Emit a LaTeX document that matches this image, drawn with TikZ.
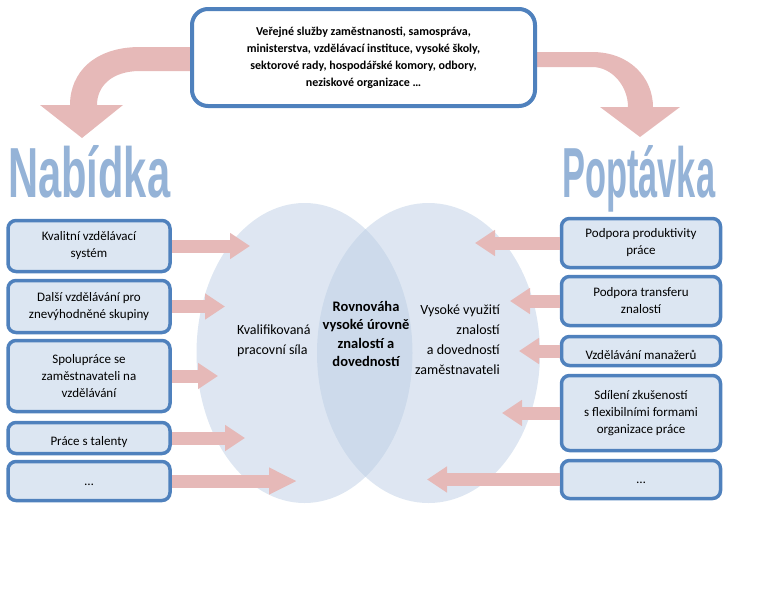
\documentclass[tikz,border=0pt]{standalone}
\usepackage{fontspec}
\setmainfont{Carlito}
\newfontfamily\titlefont{Liberation Sans}
\usetikzlibrary{arrows.meta}
\definecolor{bordblue}{RGB}{79,129,189}
\definecolor{boxfill}{RGB}{220,230,242}
\definecolor{pinkarr}{RGB}{230,185,184}
\definecolor{titleblue}{RGB}{149,179,215}
\definecolor{ellfill}{RGB}{187,205,228}
\begin{document}
\begin{tikzpicture}[x=1pt,y=-1pt,
  font=\fontsize{13}{17}\selectfont,
  sidebox/.style={draw=bordblue, line width=3.5pt, fill=boxfill, rounded corners=8pt,
    align=center, inner sep=2pt},
  lowtext/.style={execute at begin node={\rule{0pt}{#1}}},
  lowtext/.default=16.5pt,
  lbox/.style={sidebox, minimum width=162pt},
  rbox/.style={sidebox, minimum width=159pt},
  parr/.style={draw=pinkarr, line width=13pt, -{Triangle[width=25pt,length=20pt]}},
  venn/.style={fill=ellfill, opacity=0.49},
]
\useasboundingbox (0,0) rectangle (768,614);

% Venn ellipses
\fill[venn] (304.5,353) ellipse [x radius=108, y radius=150];
\fill[venn] (428.5,353) ellipse [x radius=111.5, y radius=150];

% curved arrows
\fill[pinkarr] (195,47) -- (140,47) .. controls (95,47) and (70,72) .. (70,105)
  -- (40,105) -- (82,138) -- (123,105) -- (97,105)
  .. controls (97,86) and (112,71) .. (140,71) -- (195,71) -- cycle;
\fill[pinkarr] (532,52) -- (592,52) .. controls (630,52) and (653,78) .. (653,107)
  -- (680,107) -- (640,137) -- (600,107) -- (628,107)
  .. controls (628,86) and (612,67) .. (592,67) -- (532,67) -- cycle;

% top box
\node[draw=bordblue, line width=4pt, fill=white, rounded corners=16pt,
  minimum width=343pt, minimum height=97pt, align=center,
  font=\bfseries\fontsize{12}{17}\selectfont] (top) at (363.5,57.5)
  {Veřejné služby zaměstnanosti, samospráva,\\ministerstva, vzdělávací instituce, vysoké školy,\\sektorové rady, hospodářské komory, odbory,\\neziskové organizace …};

% titles
\node[anchor=base west, inner sep=0, text=titleblue] (nab) at (8,197)
  {\resizebox{162pt}{52pt}{\titlefont\bfseries Nabídka}};
\node[anchor=base west, inner sep=0, text=titleblue] (pop) at (562,197)
  {\resizebox{153pt}{52pt}{\titlefont\bfseries Poptávka}};

% arrow tips
\coordinate (lt1) at (250,246);
\coordinate (lt2) at (225,306.5);
\coordinate (lt3) at (218,376);
\coordinate (lt4) at (245,438);
\coordinate (lt5) at (297,481);
\coordinate (rt1) at (475,243);
\coordinate (rt2) at (510,301);
\coordinate (rt3) at (519,351);
\coordinate (rt4) at (502,413);
\coordinate (rt5) at (427,479.5);

% left boxes
\node[lbox, lowtext=22pt, minimum height=51pt] (l1) at (89,246) {Kvalitní vzdělávací\\systém};
\node[lbox, lowtext=22pt, minimum height=52pt] (l2) at (89,306.5) {Další vzdělávání pro\\znevýhodněné skupiny};
\node[lbox, lowtext=20pt, minimum height=71pt] (l3) at (89,376) {Spolupráce se\\zaměstnavateli na\\vzdělávání};
\node[lbox, lowtext, minimum height=31pt] (l4) at (89,438) {Práce s talenty};
\node[lbox, lowtext=8.5pt, minimum height=39pt] (l5) at (89,481) {…};

% right boxes
\node[rbox, lowtext=20pt, minimum height=49pt] (r1) at (641,243) {Podpora produktivity\\práce};
\node[rbox, lowtext=20pt, minimum height=49pt] (r2) at (641,301) {Podpora transferu\\znalostí};
\node[rbox, lowtext, minimum height=29pt] (r3) at (641,351) {Vzdělávání manažerů};
\node[rbox, lowtext=20pt, minimum height=75pt] (r4) at (641,413) {Sdílení zkušeností\\s flexibilními formami\\organizace práce};
\node[rbox, lowtext=8.5pt, minimum height=38pt] (r5) at (641,479.5) {…};

% block arrows
\draw[parr] (l1.east) -- (lt1);
\draw[parr] (l2.east) -- (lt2);
\draw[parr] (l3.east) -- (lt3);
\draw[parr] (l4.east) -- (lt4);
\draw[parr, -{Triangle[width=25pt,length=28pt]}] (l5.east) -- (lt5);
\draw[parr] (r1.west) -- (rt1);
\draw[parr] (r2.west) -- (rt2);
\draw[parr] (r3.west) -- (rt3);
\draw[parr] (r4.west) -- (rt4);
\draw[parr] (r5.west) -- (rt5);

% venn texts
\node[align=center, inner sep=0, font=\bfseries\fontsize{14.5}{18.5}\selectfont] (mid) at (366,334)
  {Rovnováha\\vysoké úrovně\\znalostí a\\dovedností};
\node[align=left, inner sep=0, anchor=west, font=\fontsize{14}{20}\selectfont] (kval) at (237,341)
  {Kvalifikovaná\\pracovní síla};
\node[align=right, inner sep=0, anchor=east, font=\fontsize{14}{20}\selectfont] (vys) at (500,340)
  {Vysoké využití\\znalostí\\a dovedností\\zaměstnavateli};
\end{tikzpicture}
\end{document}
